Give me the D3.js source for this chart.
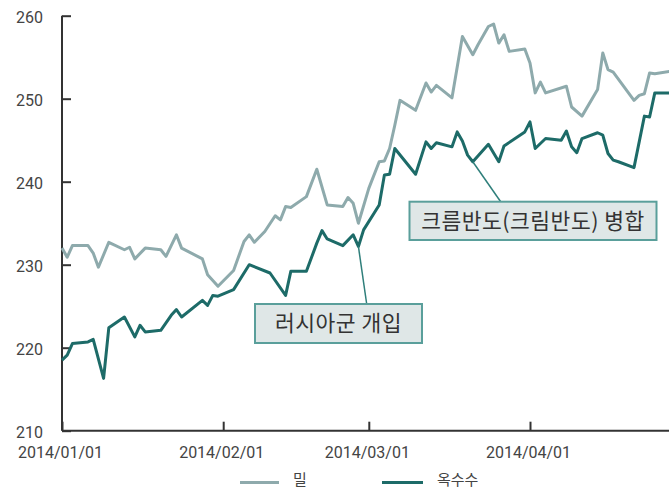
<!DOCTYPE html>
<html><head><meta charset="utf-8">
<script src="https://cdn.jsdelivr.net/npm/d3@7"></script>
<style>
html,body{margin:0;padding:0;background:#fff;}
svg{display:block;}
</style></head>
<body>
<svg id="chart" width="669" height="490"></svg>
<script>
// ---- data ----
const wheatDates = ["2014-01-01","2014-01-02","2014-01-03","2014-01-06","2014-01-07","2014-01-08","2014-01-10","2014-01-13","2014-01-14","2014-01-15","2014-01-17","2014-01-20","2014-01-21","2014-01-23","2014-01-24","2014-01-28","2014-01-29","2014-01-31","2014-02-03","2014-02-05","2014-02-06","2014-02-07","2014-02-09","2014-02-11","2014-02-12","2014-02-13","2014-02-14","2014-02-17","2014-02-19","2014-02-21","2014-02-24","2014-02-25","2014-02-26","2014-02-27","2014-03-01","2014-03-03","2014-03-04","2014-03-05","2014-03-06","2014-03-07","2014-03-10","2014-03-12","2014-03-13","2014-03-14","2014-03-17","2014-03-19","2014-03-21","2014-03-22","2014-03-24","2014-03-25","2014-03-26","2014-03-27","2014-03-28","2014-03-31","2014-04-01","2014-04-02","2014-04-03","2014-04-04","2014-04-08","2014-04-09","2014-04-11","2014-04-14","2014-04-15","2014-04-16","2014-04-17","2014-04-21","2014-04-22","2014-04-23","2014-04-24","2014-04-25","2014-04-28"];
const wheatValues = [232.0,230.9,232.3,232.3,231.4,229.7,232.7,231.8,232.1,230.7,232.0,231.8,231.0,233.6,232.0,230.7,228.8,227.4,229.3,232.8,233.6,232.7,234.0,235.9,235.4,237.0,236.9,238.2,241.5,237.2,237.0,238.1,237.4,235.0,239.2,242.4,242.5,244.0,246.8,249.8,248.6,251.9,250.8,251.6,250.1,257.5,255.3,256.5,258.7,259.0,256.7,257.7,255.7,256.0,254.3,250.7,252.0,250.7,251.5,249.0,247.9,251.1,255.5,253.5,253.2,249.8,250.4,250.6,253.1,253.0,253.3];
const cornDates = ["2014-01-01","2014-01-02","2014-01-03","2014-01-06","2014-01-07","2014-01-09","2014-01-10","2014-01-13","2014-01-15","2014-01-16","2014-01-17","2014-01-20","2014-01-22","2014-01-23","2014-01-24","2014-01-28","2014-01-29","2014-01-30","2014-01-31","2014-02-03","2014-02-06","2014-02-10","2014-02-13","2014-02-14","2014-02-17","2014-02-19","2014-02-20","2014-02-21","2014-02-24","2014-02-26","2014-02-27","2014-02-28","2014-03-03","2014-03-04","2014-03-05","2014-03-06","2014-03-10","2014-03-12","2014-03-13","2014-03-14","2014-03-17","2014-03-18","2014-03-19","2014-03-20","2014-03-21","2014-03-24","2014-03-26","2014-03-27","2014-03-31","2014-04-01","2014-04-02","2014-04-04","2014-04-07","2014-04-08","2014-04-09","2014-04-10","2014-04-11","2014-04-14","2014-04-15","2014-04-16","2014-04-17","2014-04-18","2014-04-21","2014-04-23","2014-04-24","2014-04-25","2014-04-28"];
const cornValues = [218.5,219.1,220.5,220.7,221.0,216.3,222.4,223.7,221.3,222.7,221.9,222.1,223.9,224.6,223.7,225.7,225.1,226.3,226.2,227.0,230.0,229.0,226.3,229.2,229.2,232.6,234.1,233.1,232.3,233.6,232.2,234.2,237.2,240.8,240.9,244.0,240.9,244.8,244.0,244.7,244.2,246.0,244.9,243.2,242.4,244.5,242.4,244.3,246.0,247.2,244.0,245.2,245.0,246.1,244.2,243.5,245.2,245.9,245.6,243.4,242.6,242.4,241.7,247.9,247.8,250.7,250.7];
const seriesNames = ["밀","옥수수"];
const yTicks = [210,220,230,240,250,260];
const xTickDates = ["2014-01-01","2014-02-01","2014-03-01","2014-04-01"];
const annotationTexts = ["러시아군 개입","크름반도(크림반도) 병합"];
const annotationDates = ["2014-02-27","2014-03-21"];

// ---- chart ----
const parse = d3.timeParse("%Y-%m-%d");
const fmt = d3.timeFormat("%Y/%m/%d");
const colors = ["#8eaaac","#1d6b68"];
const svg = d3.select("#chart");

const x = d3.scaleTime()
  .domain([parse("2014-01-01"), parse("2014-04-28")])
  .range([62, 670.4]);
const y = d3.scaleLinear().domain([210,260]).range([430.7, 15.7]);

const wheat = wheatDates.map((d,i)=>({date:parse(d), v:wheatValues[i]}));
const corn = cornDates.map((d,i)=>({date:parse(d), v:cornValues[i]}));

const line = d3.line().x(d=>x(d.date)).y(d=>y(d.v)).curve(d3.curveLinear);

// axes
const axisFont = "Roboto, 'Noto Sans', sans-serif";
const yAxis = svg.append("g").attr("transform","translate(62,0)")
  .call(d3.axisRight(y).tickValues(yTicks).tickSize(9).tickFormat(d3.format("d")));
yAxis.select(".domain").attr("d", `M0,${y(260)}V${y(210)}`).attr("stroke","#333").attr("stroke-width",2);
yAxis.selectAll(".tick line").attr("stroke","#333").attr("stroke-width",2);
yAxis.selectAll(".tick text").attr("x",-19).attr("dy","0.45em").attr("text-anchor","end")
  .attr("font-family",axisFont).attr("font-size",16).attr("fill","#444");

const xAxis = svg.append("g").attr("transform",`translate(0,${y(210)})`)
  .call(d3.axisTop(x).tickValues(xTickDates.map(parse)).tickSize(9).tickFormat(fmt));
xAxis.select(".domain").attr("d", `M62,0H669`).attr("stroke","#333").attr("stroke-width",2);
xAxis.selectAll(".tick line").attr("stroke","#333").attr("stroke-width",2);
xAxis.selectAll(".tick text").attr("y",27).attr("dy",0).attr("dx",-2)
  .attr("font-family",axisFont).attr("font-size",16).attr("fill","#444");

// lines
svg.append("path").datum(wheat).attr("d",line).attr("fill","none")
  .attr("stroke",colors[0]).attr("stroke-width",3).attr("stroke-linejoin","round");
svg.append("path").datum(corn).attr("d",line).attr("fill","none")
  .attr("stroke",colors[1]).attr("stroke-width",3).attr("stroke-linejoin","round");

// annotations
const boxes = [
  {x:255, y:304, w:167, h:39, tx:366.7, ty:304},
  {x:409.5, y:201.7, w:247, h:38.3, tx:500.7, ty:201.7}
];
annotationTexts.forEach((t,i)=>{
  const pt = corn.find(d=>+d.date===+parse(annotationDates[i]));
  const b = boxes[i];
  svg.append("line").attr("x1",x(pt.date)).attr("y1",y(pt.v)).attr("x2",b.tx).attr("y2",b.ty)
    .attr("stroke","#2f7f7b").attr("stroke-width",1.5);
  svg.append("rect").attr("x",b.x).attr("y",b.y).attr("width",b.w).attr("height",b.h)
    .attr("fill","#dfe7e7").attr("stroke","#5a9f9b").attr("stroke-width",2);
  svg.append("text").attr("x",b.x+b.w/2).attr("y",b.y+b.h/2).attr("dy","0.36em")
    .attr("text-anchor","middle").attr("font-family","'Noto Sans CJK KR', sans-serif")
    .attr("font-size",21.5).attr("letter-spacing",0.5).attr("fill","#333").text(t);
});

// legend
const legend = svg.append("g");
const legItems = [{x1:240,x2:279,tx:293},{x1:382,x2:423,tx:437}];
seriesNames.forEach((n,i)=>{
  const L = legItems[i];
  legend.append("line").attr("x1",L.x1).attr("x2",L.x2).attr("y1",482.5).attr("y2",482.5)
    .attr("stroke",colors[i]).attr("stroke-width",3);
  legend.append("text").attr("x",L.tx).attr("y",484.5).attr("dy",0)
    .attr("font-family","'Noto Sans CJK KR', sans-serif").attr("font-size",15).attr("fill","#444").text(n);
});
</script>
</body></html>
